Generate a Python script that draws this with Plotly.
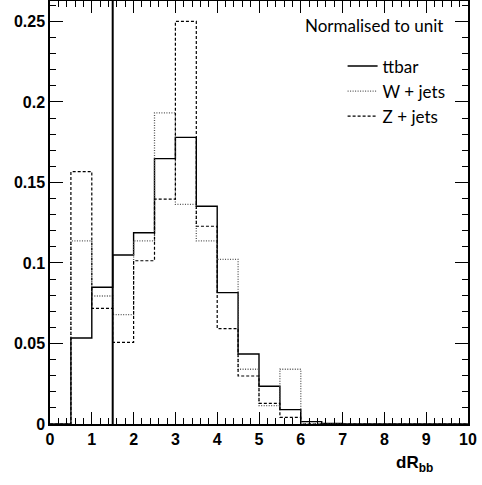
import numpy as np
import plotly.graph_objects as go

# ---- data ----
bin_edges = [0.0, 0.5, 1.0, 1.5, 2.0, 2.5, 3.0, 3.5, 4.0, 4.5, 5.0, 5.5, 6.0, 6.5, 7.0,
             7.5, 8.0, 8.5, 9.0, 9.5, 10.0]
ttbar = [0.0, 0.0534, 0.0849, 0.1050, 0.1188, 0.1648, 0.1780, 0.1352, 0.0816, 0.0435,
         0.0234, 0.0089, 0.0015, 0.0004, 0.0, 0.0, 0.0, 0.0, 0.0, 0.0]
wjets = [0.0, 0.1137, 0.0795, 0.0679, 0.1137, 0.1932, 0.1364, 0.1137, 0.1023, 0.0340,
         0.0114, 0.0340, 0.0, 0.0, 0.0, 0.0, 0.0, 0.0, 0.0, 0.0]
zjets = [0.0, 0.1567, 0.0718, 0.0507, 0.1014, 0.1397, 0.2501, 0.1228, 0.0592, 0.0298,
         0.0128, 0.0041, 0.0, 0.0, 0.0, 0.0, 0.0, 0.0, 0.0, 0.0]
series_names = ["ttbar", "W + jets", "Z + jets"]
cut_value = 1.5
x_ticks = [0, 1, 2, 3, 4, 5, 6, 7, 8, 9, 10]
x_ticklabels = ["0", "1", "2", "3", "4", "5", "6", "7", "8", "9", "10"]
y_ticks = [0, 0.05, 0.1, 0.15, 0.2, 0.25]
y_ticklabels = ["0", "0.05", "0.1", "0.15", "0.2", "0.25"]
x_range = [0, 10]
y_range = [0, 0.2627]

def step_xy(edges, vals):
    xs = list(edges[:-1]) + [edges[-1]]
    ys = list(vals) + [vals[-1]]
    return xs, ys

styles = [
    dict(color="black", width=1.4, dash="solid"),
    dict(color="#555555", width=1.3, dash="1px,1.5px"),
    dict(color="black", width=1.2, dash="3px,2px"),
]

fig = go.Figure()
for name, vals, st in zip(series_names, [ttbar, wjets, zjets], styles):
    xs, ys = step_xy(bin_edges, vals)
    fig.add_trace(go.Scatter(x=xs, y=ys, mode="lines", name=name,
                             line=dict(shape="hv", **st)))

fig.add_shape(type="line", xref="x", yref="paper", x0=cut_value, x1=cut_value,
              y0=0, y1=1, line=dict(color="black", width=2))

tickfont = dict(family="Liberation Sans", size=16, color="black", weight="bold")
bold = lambda s: "<b>" + s + "</b>"

common = dict(ticks="inside", tickcolor="black", tickwidth=1, showline=True,
              linecolor="black", linewidth=1.5, showgrid=False, zeroline=False)

fig.update_layout(
    xaxis=dict(range=x_range, tickvals=x_ticks, ticktext=[bold(t) for t in x_ticklabels],
               ticklen=12, tickfont=tickfont,
               minor=dict(ticks="inside", ticklen=6, dtick=0.2, tick0=0,
                          tickcolor="black", tickwidth=1, showgrid=False), **common),
    xaxis2=dict(range=x_range, tickvals=x_ticks, ticklen=12, showticklabels=False,
                overlaying="x", side="top", anchor="y",
                minor=dict(ticks="inside", ticklen=6, dtick=0.2, tick0=0,
                           tickcolor="black", tickwidth=1, showgrid=False), **common),
    yaxis=dict(range=y_range, tickvals=y_ticks, ticktext=[bold(t) for t in y_ticklabels],
               ticklen=13, tickfont=tickfont,
               minor=dict(ticks="inside", ticklen=6, dtick=0.01, tick0=0,
                          tickcolor="black", tickwidth=1, showgrid=False), **common),
    yaxis2=dict(range=y_range, tickvals=y_ticks, ticklen=13, showticklabels=False,
                overlaying="y", side="right", anchor="x",
                minor=dict(ticks="inside", ticklen=6, dtick=0.01, tick0=0,
                           tickcolor="black", tickwidth=1, showgrid=False), **common),
)
# invisible trace to activate secondary axes
fig.add_trace(go.Scatter(x=[x_range[0]], y=[y_range[0]], xaxis="x2", yaxis="y2",
                         mode="markers", marker=dict(opacity=0), showlegend=False,
                         hoverinfo="skip"))

fig.add_annotation(text="Normalised to unit", xref="paper", yref="paper",
                   x=0.945, y=0.943, xanchor="right", yanchor="middle", showarrow=False,
                   font=dict(family="Lato", size=17, color="black"))
fig.add_annotation(text="<b>dR<sub>bb</sub></b>", xref="paper", yref="paper",
                   x=0.92, y=-0.095, xanchor="right", yanchor="middle", showarrow=False,
                   font=dict(family="Liberation Sans", size=17, color="black"))

fig.update_layout(
    width=482, height=485,
    margin=dict(l=50, r=14, t=1, b=61),
    plot_bgcolor="white", paper_bgcolor="white",
    showlegend=True,
    legend=dict(x=0.70, y=0.888, xanchor="left", yanchor="top", bgcolor="rgba(0,0,0,0)",
                font=dict(family="Lato", size=17, color="black"), borderwidth=0),
)

fig.write_html("out.html")
